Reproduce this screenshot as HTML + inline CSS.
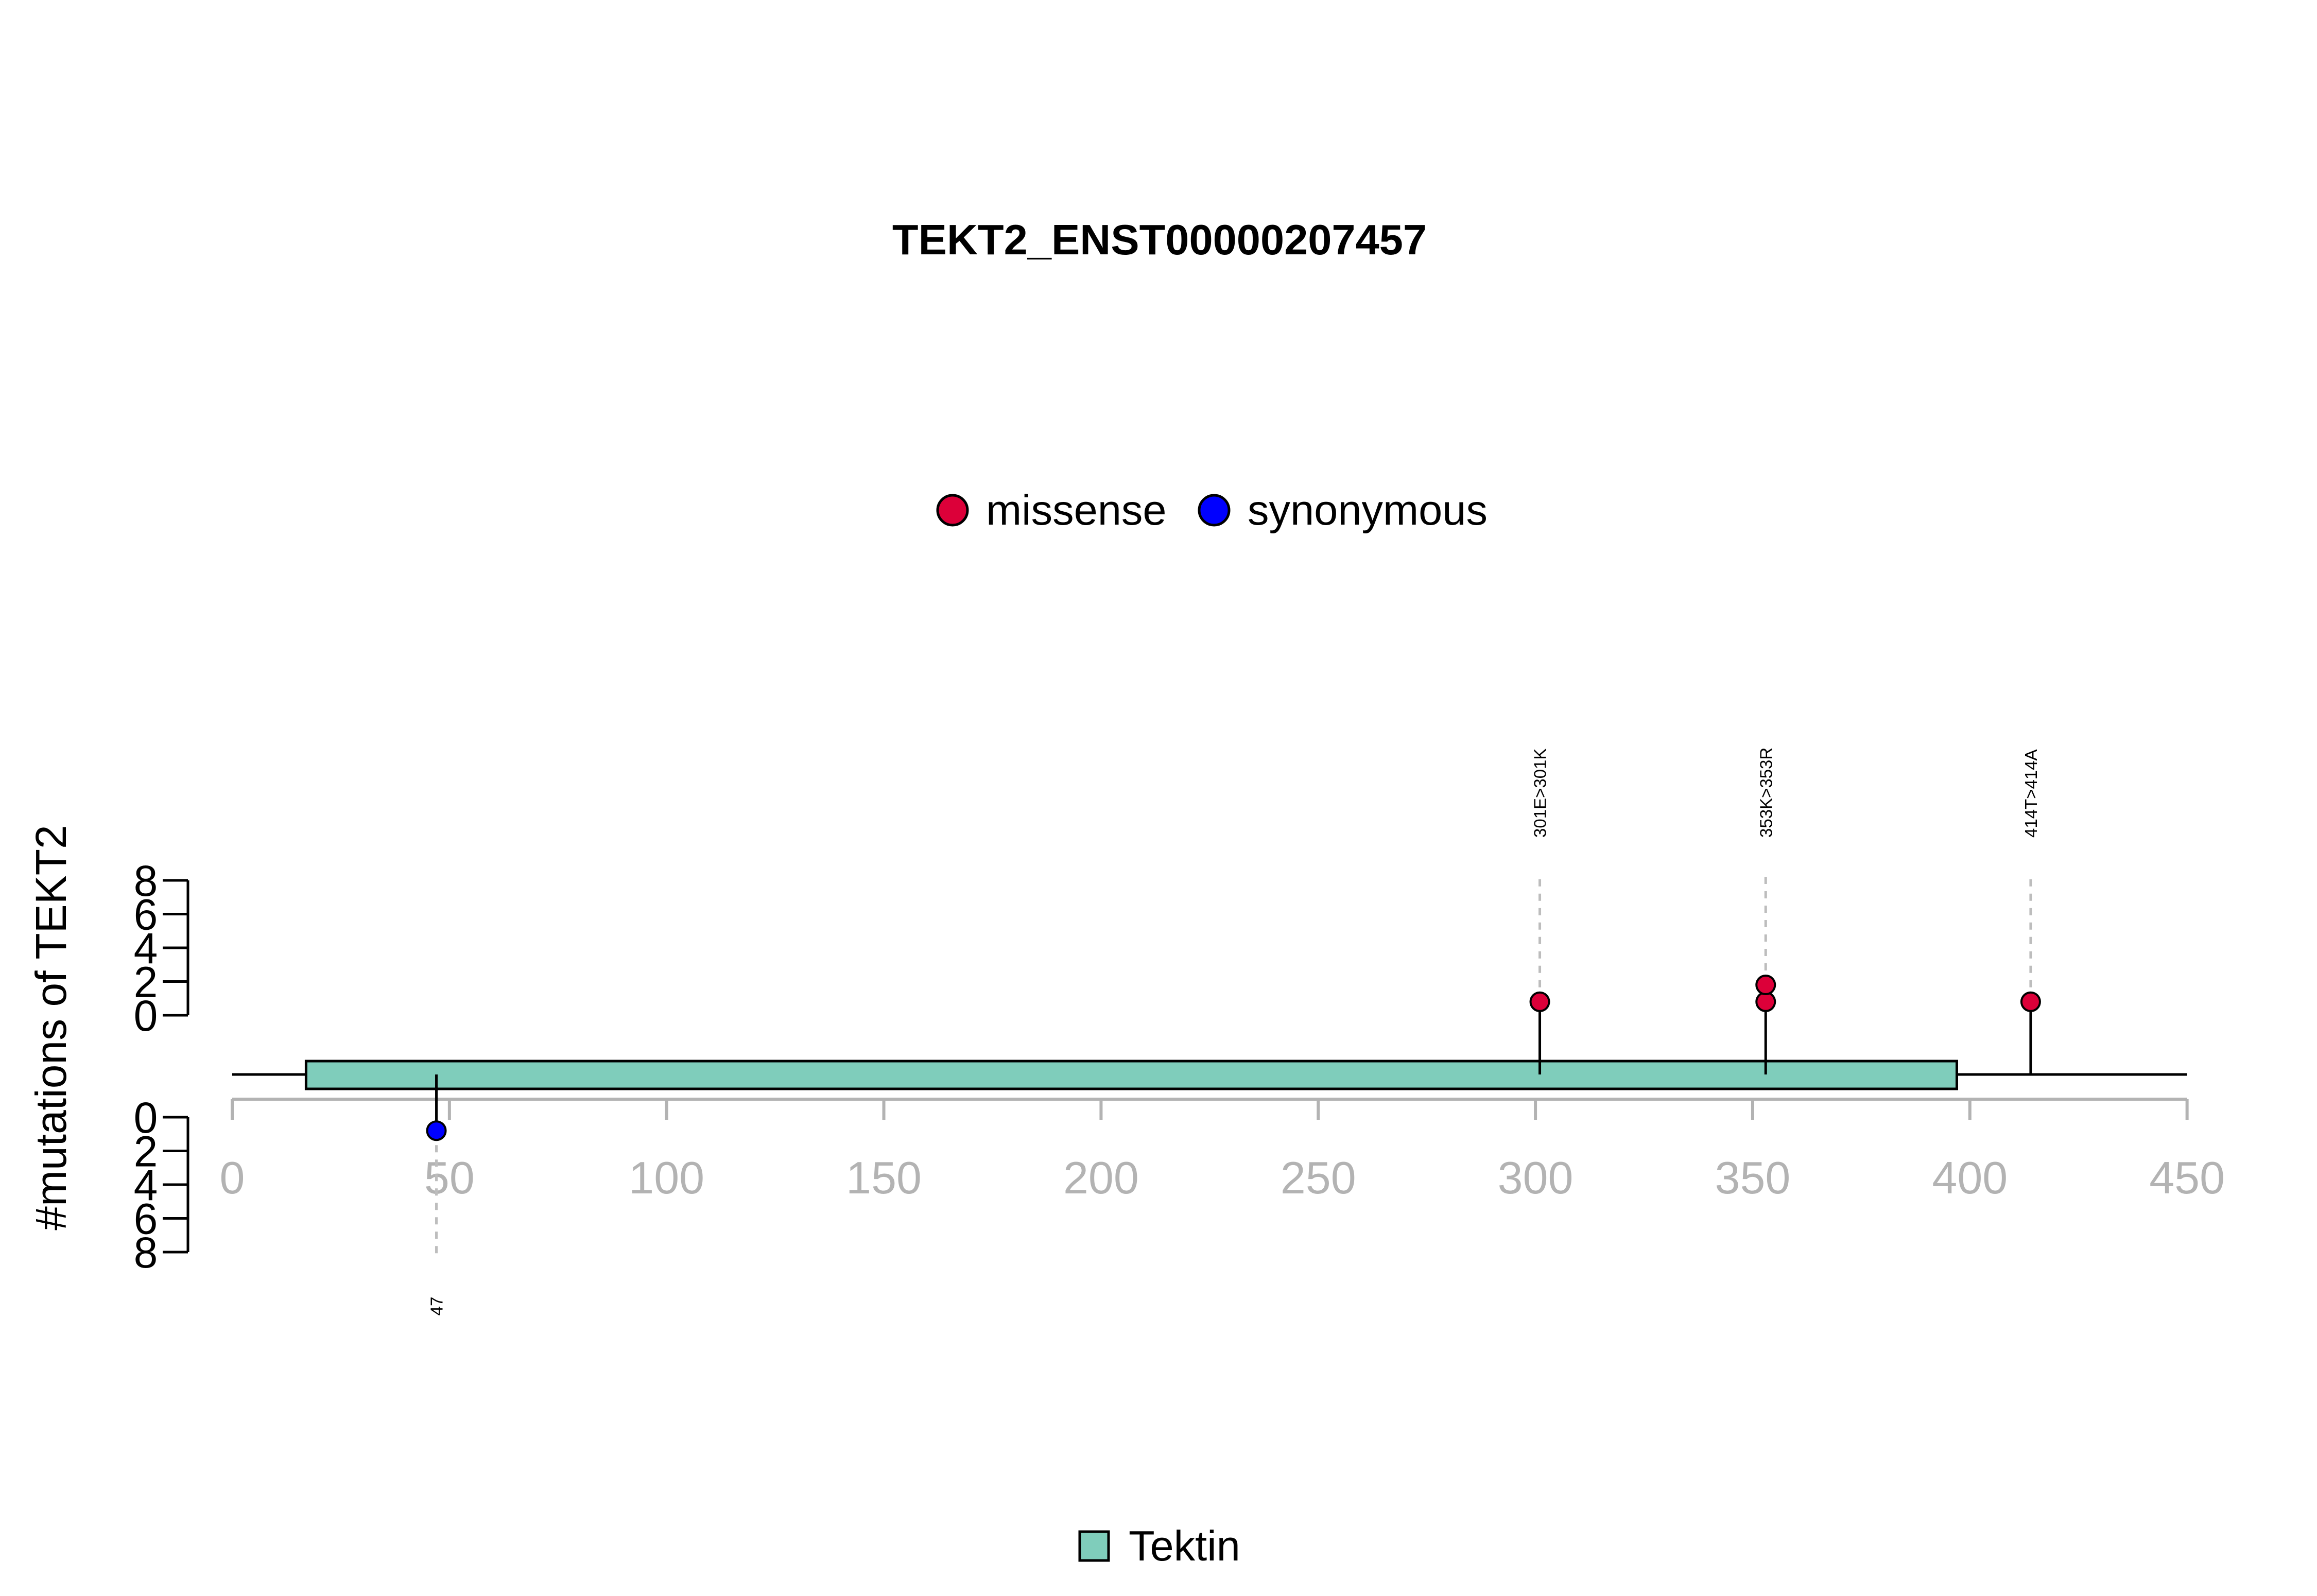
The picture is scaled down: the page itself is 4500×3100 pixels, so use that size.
<!DOCTYPE html>
<html><head><meta charset="utf-8"><style>
html,body{margin:0;padding:0;background:#fff;}
svg{display:block;font-family:"Liberation Sans",Arial,sans-serif;}
</style></head><body>
<svg id="chart" width="4500" height="3100" viewBox="0 0 4500 3100" xmlns="http://www.w3.org/2000/svg">
<text x="2252" y="494" font-size="83" font-weight="bold" text-anchor="middle">TEKT2_ENST00000207457</text>
<g>
 <g>
  <circle cx="1850" cy="991" r="29" fill="#dc0039" stroke="#000" stroke-width="5"/>
  <text x="1915" y="1019" font-size="83">missense</text>
 </g>
 <g>
  <circle cx="2358" cy="991" r="29" fill="#0000ff" stroke="#000" stroke-width="5"/>
  <text x="2423" y="1019" font-size="83">synonymous</text>
 </g>
</g>
<text transform="translate(128,1996) rotate(-90)" font-size="84" text-anchor="middle">#mutations of TEKT2</text>
<g id="plot"></g>
<g>
 <rect x="2097" y="2975" width="56" height="56" fill="#7fcdbb" stroke="#000" stroke-width="5"/>
 <text x="2192" y="3031" font-size="83">Tektin</text>
</g>
</svg>
<script>
const xTicks = [0,50,100,150,200,250,300,350,400,450];
const yTicks = [0,2,4,6,8];
const domainStart = 17, domainEnd = 397, proteinLength = 450;
const upPositions = [301,353,353,414];
const upStack = [1,1,2,1];
const upLabels = ["301E>301K","353K>353R","353K>353R","414T>414A"];
const downPositions = [47];
const downStack = [1];
const downLabels = ["47"];

const NS="http://www.w3.org/2000/svg";
const g=document.getElementById('plot');
function X(v){return 451+v*8.437;}
const upZero=1972, downZero=2170, unit=32.75, backboneY=2087, axisY=2135;
function YU(v){return upZero-v*unit;}
function YD(v){return downZero+v*unit;}
function mk(tag,attrs,parent){const e=document.createElementNS(NS,tag);for(const k in attrs)e.setAttribute(k,attrs[k]);(parent||g).appendChild(e);return e;}

let bb=mk('line',{x1:X(0),y1:backboneY,x2:X(proteinLength),y2:backboneY,stroke:'#000','stroke-width':5});


let dom=mk('rect',{x:X(domainStart),y:2061,width:X(domainEnd)-X(domainStart),height:54,fill:'#7fcdbb',stroke:'#000','stroke-width':5});



let xa=mk('line',{x1:X(0),y1:axisY,x2:X(450),y2:axisY,stroke:'#b3b3b3','stroke-width':6});


xTicks.forEach(t=>{
 let l=mk('line',{x1:X(t),y1:axisY,x2:X(t),y2:2175,stroke:'#b3b3b3','stroke-width':6});
 
 
 let tx=mk('text',{x:X(t),y:2318,'font-size':88,fill:'#b3b3b3','text-anchor':'middle'});
 tx.textContent=t;
 
 
});

function yAxis(fn,name){
 let l=mk('line',{x1:365,y1:fn(0),x2:365,y2:fn(8),stroke:'#000','stroke-width':5});
 
 
 yTicks.forEach(t=>{
  let tk=mk('line',{x1:316,y1:fn(t),x2:365,y2:fn(t),stroke:'#000','stroke-width':5});
  
  
  let tx=mk('text',{x:283,y:fn(t)+30,'font-size':84,'text-anchor':'middle'});
  tx.textContent=t;
  
  
 });
}
yAxis(YU,'y-axis-upper');
yAxis(YD,'y-axis-lower');

function pts(positions,stack,labels,up,color){
 const fn=up?YU:YD;
 const seen={};
 positions.forEach((p,i)=>{
  const x=X(p);
  if(!seen[p]){
   seen[p]=1;
   const maxS=Math.max(...positions.map((q,j)=>q===p?stack[j]:0));
   const topPy=fn(maxS-0.2);
   let st=mk('line',{x1:x,y1:backboneY,x2:x,y2:fn(0.8),stroke:'#000','stroke-width':5});
   
   
   const endY=up?1699:2445;
   let ds=mk('line',{x1:x,y1:topPy,x2:x,y2:endY,stroke:'#bdbdbd','stroke-width':5,'stroke-dasharray':'14,14'});
   
   
   let tx;
   if(up){tx=mk('text',{transform:`translate(${x+12},1627) rotate(-90)`,'font-size':33});}
   else{tx=mk('text',{transform:`translate(${x+12},2537) rotate(-90)`,'font-size':33,'text-anchor':'middle'});}
   tx.textContent=labels[i];
   
   
  }
 });
 positions.forEach((p,i)=>{
  let c=mk('circle',{cx:X(p),cy:fn(stack[i]-0.2),r:18,fill:color,stroke:'#000','stroke-width':4});
  
  
 });
}
pts(upPositions,upStack,upLabels,true,'#dc0039');
pts(downPositions,downStack,downLabels,false,'#0000ff');
</script>
</body></html>
